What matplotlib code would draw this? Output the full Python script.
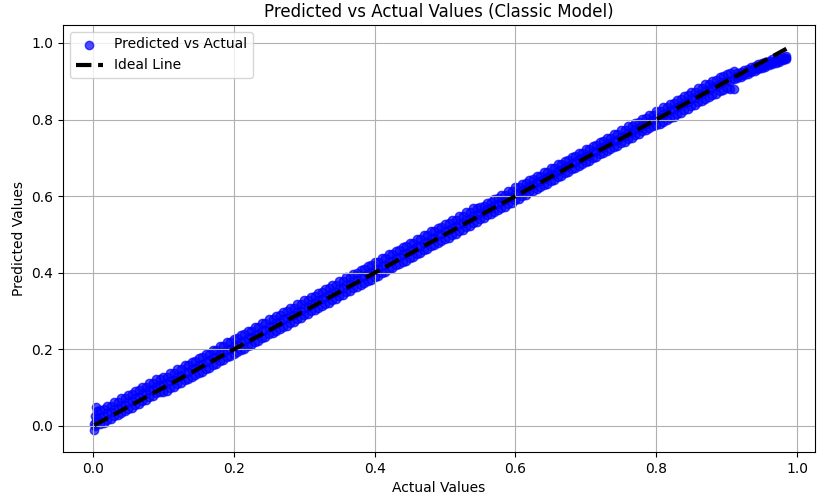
import matplotlib
matplotlib.use("Agg")
import numpy as np
import matplotlib.pyplot as plt

# ===============================
# Data
# ===============================
# points piled up at actual ~ 0
actual_zero = [0.002, 0.003, 0.004, 0.003, 0.005, 0.004, 0.002, 0.006]
pred_zero = [-0.010, 0.000, 0.012, 0.025, 0.038, 0.050, 0.006, 0.020]

actual = [
    0.010, 0.015, 0.020, 0.025, 0.030, 0.035, 0.040, 0.045, 0.050, 0.055,
    0.060, 0.065, 0.070, 0.075, 0.080, 0.085, 0.090, 0.095, 0.100, 0.105,
    0.110, 0.115, 0.120, 0.125, 0.130, 0.135, 0.140, 0.145, 0.150, 0.155,
    0.160, 0.165, 0.170, 0.175, 0.180, 0.185, 0.190, 0.195, 0.200, 0.205,
    0.210, 0.215, 0.220, 0.225, 0.230, 0.235, 0.240, 0.245, 0.250, 0.255,
    0.260, 0.265, 0.270, 0.275, 0.280, 0.285, 0.290, 0.295, 0.300, 0.305,
    0.310, 0.315, 0.320, 0.325, 0.330, 0.335, 0.340, 0.345, 0.350, 0.355,
    0.360, 0.365, 0.370, 0.375, 0.380, 0.385, 0.390, 0.395, 0.400, 0.405,
    0.410, 0.415, 0.420, 0.425, 0.430, 0.435, 0.440, 0.445, 0.450, 0.455,
    0.460, 0.465, 0.470, 0.475, 0.480, 0.485, 0.490, 0.495, 0.500, 0.505,
    0.510, 0.515, 0.520, 0.525, 0.530, 0.535, 0.540, 0.545, 0.550, 0.555,
    0.560, 0.565, 0.570, 0.575, 0.580, 0.585, 0.590, 0.595, 0.600, 0.605,
    0.610, 0.615, 0.620, 0.625, 0.630, 0.635, 0.640, 0.645, 0.650, 0.655,
    0.660, 0.665, 0.670, 0.675, 0.680, 0.685, 0.690, 0.695, 0.700, 0.705,
    0.710, 0.715, 0.720, 0.725, 0.730, 0.735, 0.740, 0.745, 0.750, 0.755,
    0.760, 0.765, 0.770, 0.775, 0.780, 0.785, 0.790, 0.795, 0.800, 0.805,
    0.810, 0.815, 0.820, 0.825, 0.830, 0.835, 0.840, 0.845, 0.850, 0.855,
    0.860, 0.865, 0.870, 0.875, 0.880, 0.885, 0.890, 0.895, 0.900, 0.905,
    0.910, 0.915, 0.920, 0.925, 0.930, 0.935, 0.940, 0.945, 0.950, 0.955,
    0.960, 0.965, 0.970, 0.975, 0.980, 0.985,
]

# upper edge of the predicted band
pred_upper = [
    0.042, 0.043, 0.052, 0.053, 0.062, 0.063, 0.072, 0.073, 0.082, 0.083,
    0.092, 0.093, 0.102, 0.103, 0.112, 0.113, 0.122, 0.123, 0.128, 0.129,
    0.138, 0.139, 0.148, 0.149, 0.158, 0.159, 0.168, 0.169, 0.178, 0.179,
    0.188, 0.189, 0.198, 0.199, 0.208, 0.209, 0.218, 0.219, 0.228, 0.229,
    0.238, 0.239, 0.248, 0.249, 0.258, 0.259, 0.268, 0.269, 0.278, 0.279,
    0.288, 0.289, 0.298, 0.299, 0.308, 0.309, 0.318, 0.319, 0.328, 0.329,
    0.338, 0.339, 0.348, 0.349, 0.358, 0.359, 0.368, 0.369, 0.378, 0.379,
    0.388, 0.389, 0.398, 0.399, 0.408, 0.409, 0.418, 0.419, 0.428, 0.429,
    0.438, 0.439, 0.448, 0.449, 0.458, 0.459, 0.468, 0.469, 0.478, 0.479,
    0.488, 0.489, 0.498, 0.499, 0.508, 0.509, 0.518, 0.519, 0.528, 0.529,
    0.538, 0.539, 0.548, 0.549, 0.558, 0.559, 0.568, 0.569, 0.573, 0.574,
    0.583, 0.584, 0.593, 0.594, 0.603, 0.604, 0.613, 0.614, 0.623, 0.624,
    0.633, 0.634, 0.643, 0.644, 0.653, 0.654, 0.663, 0.664, 0.673, 0.674,
    0.683, 0.684, 0.693, 0.694, 0.703, 0.704, 0.713, 0.714, 0.722, 0.723,
    0.732, 0.733, 0.742, 0.743, 0.752, 0.753, 0.762, 0.763, 0.772, 0.773,
    0.782, 0.783, 0.792, 0.793, 0.802, 0.803, 0.812, 0.813, 0.822, 0.823,
    0.832, 0.833, 0.842, 0.843, 0.852, 0.853, 0.862, 0.863, 0.872, 0.873,
    0.882, 0.883, 0.892, 0.893, 0.902, 0.903, 0.912, 0.913, 0.920, 0.922,
    0.926, 0.921, 0.925, 0.929, 0.933, 0.937, 0.941, 0.944, 0.948, 0.951,
    0.954, 0.957, 0.959, 0.961, 0.963, 0.965,
]

# centre of the predicted band
pred_mid = [
    0.023, 0.026, 0.033, 0.036, 0.043, 0.046, 0.053, 0.056, 0.063, 0.066,
    0.073, 0.076, 0.083, 0.086, 0.093, 0.096, 0.103, 0.106, 0.108, 0.111,
    0.118, 0.121, 0.128, 0.131, 0.138, 0.141, 0.148, 0.151, 0.158, 0.161,
    0.168, 0.171, 0.178, 0.181, 0.188, 0.191, 0.198, 0.201, 0.208, 0.211,
    0.218, 0.221, 0.228, 0.231, 0.238, 0.241, 0.248, 0.251, 0.258, 0.261,
    0.268, 0.271, 0.278, 0.281, 0.288, 0.291, 0.298, 0.301, 0.308, 0.311,
    0.318, 0.321, 0.328, 0.331, 0.338, 0.341, 0.348, 0.351, 0.358, 0.361,
    0.368, 0.371, 0.378, 0.381, 0.388, 0.391, 0.398, 0.401, 0.408, 0.411,
    0.418, 0.421, 0.428, 0.431, 0.438, 0.441, 0.448, 0.451, 0.458, 0.461,
    0.468, 0.471, 0.478, 0.481, 0.488, 0.491, 0.498, 0.501, 0.508, 0.511,
    0.518, 0.521, 0.528, 0.531, 0.538, 0.541, 0.548, 0.551, 0.556, 0.559,
    0.566, 0.569, 0.576, 0.579, 0.586, 0.589, 0.596, 0.599, 0.606, 0.609,
    0.616, 0.619, 0.626, 0.629, 0.636, 0.639, 0.646, 0.649, 0.656, 0.659,
    0.666, 0.669, 0.676, 0.679, 0.686, 0.689, 0.696, 0.699, 0.705, 0.708,
    0.715, 0.718, 0.725, 0.728, 0.735, 0.738, 0.745, 0.748, 0.755, 0.758,
    0.765, 0.768, 0.775, 0.778, 0.785, 0.788, 0.795, 0.798, 0.804, 0.807,
    0.814, 0.817, 0.824, 0.827, 0.834, 0.837, 0.844, 0.847, 0.854, 0.857,
    0.864, 0.867, 0.874, 0.877, 0.884, 0.887, 0.894, 0.897, 0.900, 0.902,
    0.905, 0.913, 0.917, 0.921, 0.925, 0.929, 0.933, 0.936, 0.940, 0.943,
    0.947, 0.950, 0.953, 0.956, 0.959, 0.962,
]

# lower edge of the predicted band
pred_lower = [
    0.005, 0.008, 0.015, 0.018, 0.025, 0.028, 0.035, 0.038, 0.045, 0.048,
    0.055, 0.058, 0.065, 0.068, 0.075, 0.078, 0.085, 0.088, 0.089, 0.092,
    0.099, 0.102, 0.109, 0.112, 0.119, 0.122, 0.129, 0.132, 0.139, 0.142,
    0.149, 0.152, 0.159, 0.162, 0.169, 0.172, 0.179, 0.182, 0.189, 0.192,
    0.199, 0.202, 0.209, 0.212, 0.219, 0.222, 0.229, 0.232, 0.239, 0.242,
    0.249, 0.252, 0.259, 0.262, 0.269, 0.272, 0.279, 0.282, 0.289, 0.292,
    0.299, 0.302, 0.309, 0.312, 0.319, 0.322, 0.329, 0.332, 0.339, 0.342,
    0.349, 0.352, 0.359, 0.362, 0.369, 0.372, 0.379, 0.382, 0.389, 0.392,
    0.399, 0.402, 0.409, 0.412, 0.419, 0.422, 0.429, 0.432, 0.439, 0.442,
    0.449, 0.452, 0.459, 0.462, 0.469, 0.472, 0.479, 0.482, 0.489, 0.492,
    0.499, 0.502, 0.509, 0.512, 0.519, 0.522, 0.529, 0.532, 0.540, 0.543,
    0.550, 0.553, 0.560, 0.563, 0.570, 0.573, 0.580, 0.583, 0.590, 0.593,
    0.600, 0.603, 0.610, 0.613, 0.620, 0.623, 0.630, 0.633, 0.640, 0.643,
    0.650, 0.653, 0.660, 0.663, 0.670, 0.673, 0.680, 0.683, 0.689, 0.692,
    0.699, 0.702, 0.709, 0.712, 0.719, 0.722, 0.729, 0.732, 0.739, 0.742,
    0.749, 0.752, 0.759, 0.762, 0.769, 0.772, 0.779, 0.782, 0.785, 0.788,
    0.795, 0.798, 0.805, 0.808, 0.815, 0.818, 0.825, 0.828, 0.835, 0.838,
    0.845, 0.848, 0.855, 0.858, 0.865, 0.868, 0.875, 0.878, 0.882, 0.879,
    0.879, 0.908, 0.912, 0.916, 0.920, 0.924, 0.928, 0.931, 0.935, 0.938,
    0.942, 0.945, 0.948, 0.951, 0.955, 0.958,
]

y_true = np.array(actual_zero + actual + actual + actual)
y_pred = np.array(pred_zero + pred_upper + pred_mid + pred_lower)

# ===============================
# Plot
# ===============================
fig = plt.figure(figsize=(8.17, 4.95), dpi=100)
ax = fig.add_axes([63 / 817, 1 - 452 / 495, (815 - 63) / 817, (452 - 25) / 495])

ax.scatter(y_true, y_pred, color="blue", alpha=0.7, label="Predicted vs Actual")
ax.plot([y_true.min(), y_true.max()], [y_true.min(), y_true.max()],
        "k--", lw=3, label="Ideal Line")

ax.set_xlim(-0.0426, 1.0256)
ax.set_ylim(-0.068, 1.047)
ax.set_xlabel("Actual Values")
ax.set_ylabel("Predicted Values")
ax.set_title("Predicted vs Actual Values (Classic Model)")
ax.legend(loc="upper left")
ax.grid(True)

fig.savefig("out.png", dpi=100)
